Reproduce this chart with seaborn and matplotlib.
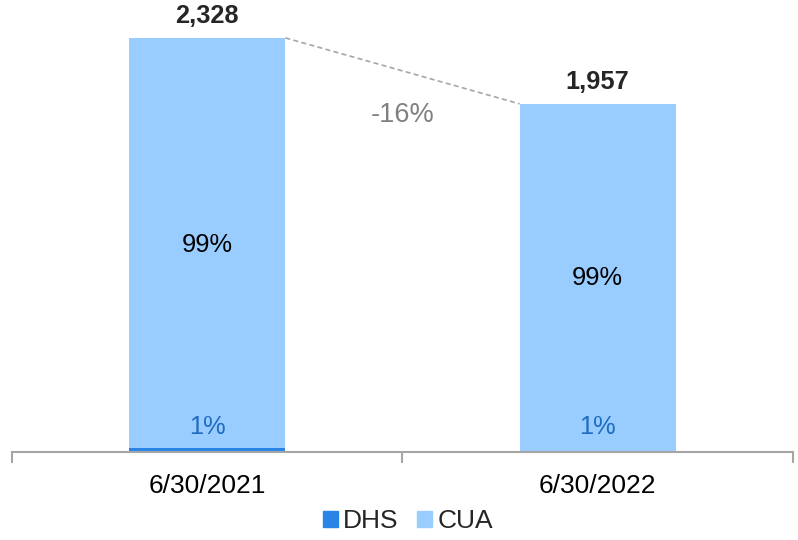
import pandas as pd
import matplotlib.pyplot as plt
import seaborn as sns
from matplotlib.patches import Patch

# Data
dates = ["6/30/2021", "6/30/2022"]
totals = [2328, 1957]
dhs = [25, 6]
cua_pct = ["99%", "99%"]
dhs_pct = ["1%", "1%"]
change = "-16%"

sns.set_theme(style="white")
plt.rcParams['font.family'] = ['Liberation Sans', 'DejaVu Sans']

cua_color = "#99CCFF"
dhs_color = "#2A84E6"

df = pd.DataFrame({"date": dates, "total": totals, "dhs": dhs})

fig = plt.figure(figsize=(7.98, 5.4), dpi=100)
ax = fig.add_axes([0.015, 0.163, 0.9787, 0.837])

# stacked: full bar in CUA colour, DHS overlaid at the bottom
sns.barplot(data=df, x="date", y="total", color=cua_color, width=0.4,
            saturation=1, linewidth=0, ax=ax)
sns.barplot(data=df, x="date", y="dhs", color=dhs_color, width=0.4,
            saturation=1, linewidth=0, ax=ax)

ax.set_xlim(-0.5, 1.5)
ax.set_ylim(0, 2541)
ax.set_xlabel("")
ax.set_ylabel("")
ax.set_yticks([])
for s in ["left", "right", "top"]:
    ax.spines[s].set_visible(False)
ax.spines["bottom"].set_color("#A6A6A6")
ax.spines["bottom"].set_linewidth(1.5)

ax.tick_params(axis="x", which="major", bottom=False, length=0, pad=16,
               labelsize=19, labelcolor="black")
ax.set_xticks([-0.5, 0.5, 1.5], minor=True)
ax.tick_params(axis="x", which="minor", bottom=True, length=8, width=1.5,
               color="#A6A6A6", direction="out")

for i, t in enumerate(totals):
    ax.annotate(f"{t:,}", (i, t), xytext=(0, 7), textcoords="offset points",
                ha="center", va="bottom", fontsize=18.3, fontweight="bold")
    ax.text(i, t / 2, cua_pct[i], ha="center", va="center", fontsize=18.3,
            color="black")
    ax.text(i, 140, dhs_pct[i], ha="center", va="center", fontsize=18.3,
            color="#1F6CC0")

# dashed connector between bar tops
ax.plot([0.2, 0.8], [totals[0], totals[1]], linestyle=(0, (3, 2)),
        color="#A6A6A6", linewidth=1.2)
ax.text(0.5, 1895, change, ha="center", va="center", fontsize=19.5,
        color="#808080")

handles = [Patch(color=dhs_color, label="DHS"), Patch(color=cua_color, label="CUA")]
fig.legend(handles=handles, loc="center", bbox_to_anchor=(408 / 798, 1 - 521 / 540),
           ncol=2, frameon=False, fontsize=19, handlelength=0.57,
           handleheight=0.57, handletextpad=0.2, columnspacing=0.7)

fig.savefig("out.png", dpi=100)
